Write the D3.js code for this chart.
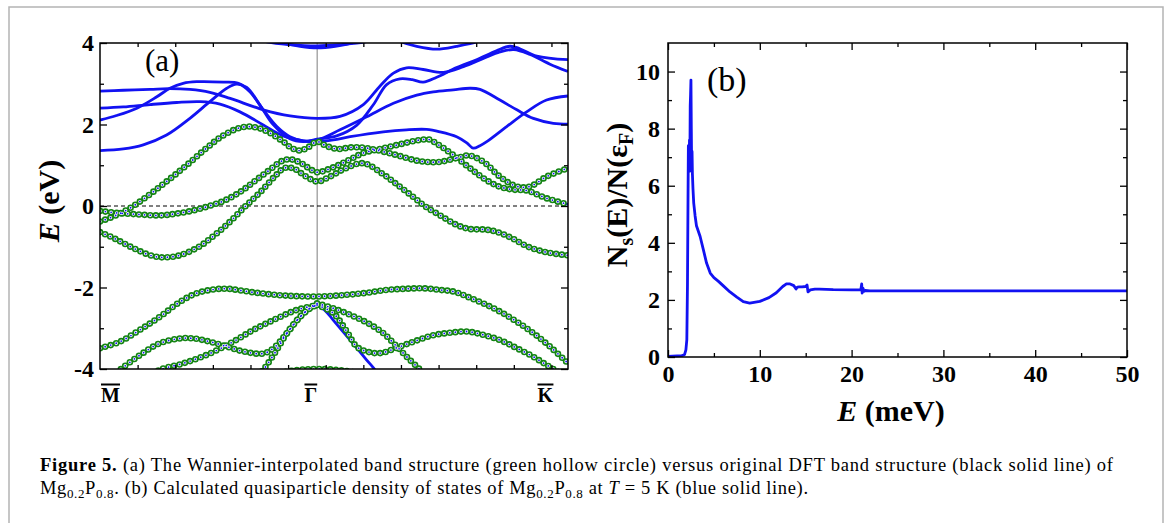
<!DOCTYPE html>
<html>
<head>
<meta charset="utf-8">
<script src="https://cdn.jsdelivr.net/npm/d3@7/dist/d3.min.js"></script>
<style>
  body { margin: 0; background: #fff; }
  svg { display: block; }
</style>
</head>
<body>
<svg id="fig" width="1169" height="523"></svg>
<script>
// ---- panel (a): band structure along M - Gamma - K, k in units of 2pi/a ----
const kLabels = ["M", "Γ", "K"]
const kPositions = [0, 0.5774, 1.244]
const kMinorTicks = [0.1, 0.2, 0.3, 0.4, 0.5, 0.6, 0.7, 0.8, 0.9, 1.0, 1.1, 1.2]
const eMajorTicks = [-4, -2, 0, 2, 4]
const eMinorTicks = [-3, -1, 1, 3]

// DFT bands without Wannier points, [k, E (eV)]
const dftTop1 = [[0.42, 4.1], [0.447, 4.02], [0.505, 3.96], [0.577, 3.93], [0.638, 3.96], [0.702, 4.02], [0.73, 4.1]]
const dftTop2 = [[0.46, 4.1], [0.478, 4.02], [0.532, 3.92], [0.577, 3.88], [0.625, 3.92], [0.678, 4.02], [0.70, 4.1]]
const dftTop3 = [[0.78, 4.12], [0.797, 4.04], [0.842, 3.92], [0.895, 3.85], [0.948, 3.92], [1.005, 4.04], [1.02, 4.12]]
const dftUpperA = [[0, 2.82], [0.062, 2.84], [0.133, 2.86], [0.182, 2.88], [0.239, 2.86], [0.292, 2.79], [0.346, 2.64],
  [0.434, 2.36], [0.505, 2.21], [0.577, 2.15], [0.638, 2.20], [0.700, 2.49], [0.744, 2.94], [0.780, 3.26], [0.815, 3.39],
  [0.859, 3.35], [0.913, 3.28], [0.966, 3.42], [1.019, 3.62], [1.063, 3.78], [1.10, 3.84], [1.143, 3.72], [1.196, 3.48], [1.244, 3.30]]
const dftUpperB = [[0, 2.40], [0.062, 2.43], [0.133, 2.49], [0.204, 2.54], [0.266, 2.56], [0.319, 2.50], [0.372, 2.31],
  [0.434, 1.99], [0.487, 1.72], [0.540, 1.60], [0.577, 1.58], [0.620, 1.62], [0.665, 1.70], [0.753, 1.82], [0.815, 1.87],
  [0.868, 1.88], [0.904, 1.82], [0.948, 1.70], [0.975, 1.55], [0.992, 1.42], [1.010, 1.48], [1.028, 1.58], [1.081, 1.95],
  [1.134, 2.31], [1.187, 2.60], [1.244, 2.70]]
const dftUpperC = [[0, 2.11], [0.044, 2.22], [0.098, 2.40], [0.151, 2.68], [0.186, 2.89], [0.221, 3.01], [0.257, 3.05],
  [0.328, 3.04], [0.368, 3.01], [0.399, 2.80], [0.434, 2.36], [0.470, 1.95], [0.505, 1.70], [0.540, 1.60], [0.577, 1.62],
  [0.638, 1.87], [0.709, 2.19], [0.780, 2.52], [0.842, 2.72], [0.886, 2.80], [0.939, 2.85], [0.984, 2.89], [1.010, 2.86],
  [1.063, 2.60], [1.108, 2.36], [1.152, 2.15], [1.205, 2.03], [1.244, 2.01]]
const dftUpperD = [[0, 1.36], [0.062, 1.40], [0.115, 1.50], [0.177, 1.74], [0.239, 2.15], [0.292, 2.56], [0.337, 2.89],
  [0.363, 2.99], [0.390, 2.91], [0.425, 2.48], [0.461, 1.99], [0.505, 1.65], [0.540, 1.58], [0.577, 1.64], [0.629, 1.72],
  [0.682, 1.98], [0.727, 2.49], [0.762, 2.98], [0.797, 3.12], [0.830, 3.10], [0.859, 3.04], [0.895, 3.16], [0.948, 3.40],
  [1.001, 3.59], [1.054, 3.81], [1.090, 3.92], [1.116, 3.86], [1.161, 3.68], [1.244, 3.59]]
const dftSteepRight = [[0.577, -2.42], [0.60, -2.58], [0.620, -2.80], [0.665, -3.29], [0.709, -3.78], [0.731, -4.02], [0.745, -4.2]]

// bands that also carry Wannier-interpolated points
const wanBand1 = [[0, -0.38], [0.04, -0.24], [0.08, -0.05], [0.12, 0.20], [0.16, 0.48], [0.20, 0.77], [0.243, 1.10],
  [0.283, 1.42], [0.324, 1.71], [0.365, 1.90], [0.396, 1.95], [0.426, 1.90], [0.456, 1.77], [0.487, 1.58], [0.51, 1.42],
  [0.53, 1.36], [0.55, 1.42], [0.577, 1.58], [0.60, 1.48], [0.63, 1.40], [0.67, 1.44], [0.71, 1.42], [0.78, 1.27],
  [0.85, 1.10], [0.90, 1.08], [0.95, 1.18], [0.98, 1.24], [1.02, 1.08], [1.063, 0.72], [1.108, 0.48], [1.143, 0.48],
  [1.187, 0.72], [1.244, 0.93]]
const wanBand2 = [[0, -0.12], [0.045, -0.17], [0.09, -0.20], [0.161, -0.23], [0.20, -0.19], [0.243, -0.12], [0.29, 0.0],
  [0.33, 0.13], [0.37, 0.33], [0.41, 0.60], [0.45, 0.88], [0.487, 1.12], [0.51, 1.14], [0.535, 1.05], [0.555, 0.93],
  [0.577, 0.83], [0.62, 0.95], [0.66, 1.12], [0.70, 1.30], [0.745, 1.40], [0.80, 1.52], [0.85, 1.62], [0.875, 1.63],
  [0.90, 1.50], [0.935, 1.28], [0.99, 0.88], [1.03, 0.62], [1.063, 0.47], [1.10, 0.40], [1.134, 0.38], [1.187, 0.19], [1.244, 0.04]]
const wanBand3 = [[0, -0.64], [0.039, -0.80], [0.090, -1.04], [0.141, -1.23], [0.172, -1.26], [0.212, -1.21], [0.263, -1.00],
  [0.304, -0.72], [0.345, -0.39], [0.385, -0.02], [0.426, 0.34], [0.467, 0.75], [0.49, 0.93], [0.515, 0.92], [0.545, 0.74],
  [0.577, 0.60], [0.609, 0.71], [0.650, 0.91], [0.700, 1.05], [0.751, 0.79], [0.792, 0.51], [0.833, 0.22], [0.863, 0.0],
  [0.904, -0.23], [0.945, -0.45], [0.980, -0.56], [1.026, -0.58], [1.057, -0.64], [1.097, -0.80], [1.138, -1.00],
  [1.189, -1.14], [1.244, -1.21]]
const wanBand4 = [[0, -3.49], [0.053, -3.33], [0.106, -3.04], [0.159, -2.72], [0.213, -2.35], [0.257, -2.14], [0.301, -2.05],
  [0.337, -2.03], [0.372, -2.07], [0.425, -2.14], [0.496, -2.20], [0.577, -2.22], [0.656, -2.18], [0.709, -2.13],
  [0.762, -2.06], [0.815, -2.03], [0.860, -2.02], [0.904, -2.06], [0.940, -2.10], [0.975, -2.22], [1.019, -2.39],
  [1.063, -2.59], [1.108, -2.84], [1.152, -3.12], [1.196, -3.45], [1.244, -3.86]]
const wanBand5 = [[0.02, -4.25], [0.053, -4.02], [0.106, -3.66], [0.159, -3.37], [0.213, -3.25], [0.248, -3.25],
  [0.292, -3.33], [0.337, -3.45], [0.381, -3.57], [0.434, -3.62], [0.461, -3.49], [0.496, -3.13], [0.532, -2.72],
  [0.558, -2.51], [0.577, -2.43]]
const wanBand6 = [[0.13, -4.2], [0.159, -4.02], [0.222, -3.86], [0.292, -3.62], [0.354, -3.33], [0.408, -3.04],
  [0.470, -2.76], [0.523, -2.55], [0.577, -2.43]]
const wanBand7 = [[0.420, -4.15], [0.434, -4.02], [0.470, -3.53], [0.496, -3.13], [0.532, -2.72], [0.558, -2.51], [0.577, -2.43]]
const wanBand8 = [[0.577, -2.43], [0.620, -2.63], [0.656, -3.08], [0.682, -3.45], [0.709, -3.57], [0.745, -3.61],
  [0.797, -3.45], [0.842, -3.30], [0.886, -3.17], [0.931, -3.11], [0.975, -3.08], [1.010, -3.14], [1.063, -3.29],
  [1.108, -3.49], [1.152, -3.70], [1.187, -3.90], [1.223, -4.10]]
const wanBand9 = [[0.577, -2.39], [0.620, -2.51], [0.665, -2.67], [0.709, -2.86], [0.753, -3.12], [0.789, -3.45],
  [0.824, -3.78], [0.851, -4.02], [0.87, -4.2]]
const wanBand10 = [[0.45, -4.15], [0.52, -4.03], [0.577, -4.0], [0.64, -4.03], [0.71, -4.15]]

// ---- panel (b): quasiparticle DOS ----
const dosE = [0, 0.5, 1.0, 1.5, 1.8, 1.95, 2.05, 2.12, 2.18, 2.22, 2.26, 2.30, 2.34, 2.38, 2.42, 2.46, 2.50, 2.54, 2.58,
  2.62, 2.66, 2.72, 2.80, 2.95, 3.1, 3.5, 3.85, 4.2, 4.6, 5.0, 5.5, 6.0, 6.75, 7.5, 8.2, 8.9, 10.0, 11.0, 11.8, 12.5,
  12.9, 13.3, 13.7, 13.95, 14.1, 14.3, 14.6, 15.0, 15.15, 15.25, 15.5, 16.0, 16.5, 18.0, 20.0, 21.0, 21.1, 21.15, 21.25,
  21.35, 21.5, 22.0, 30, 40, 50]
const dosN = [0.02, 0.03, 0.04, 0.05, 0.08, 0.25, 0.6, 2.5, 5.5, 7.4, 6.9, 6.5, 7.6, 6.6, 8.8, 9.2, 9.7, 8.0, 6.5,
  7.2, 6.4, 5.9, 5.4, 4.95, 4.6, 4.22, 3.76, 3.29, 2.94, 2.78, 2.65, 2.50, 2.28, 2.10, 1.94, 1.89, 1.95, 2.08, 2.25, 2.47,
  2.56, 2.56, 2.50, 2.38, 2.45, 2.46, 2.46, 2.47, 2.52, 2.28, 2.35, 2.38, 2.38, 2.36, 2.35, 2.35, 2.56, 2.24, 2.40,
  2.30, 2.33, 2.32, 2.32, 2.32, 2.32]
const dosXTicks = [0, 10, 20, 30, 40, 50]
const dosXMinor = [5, 15, 25, 35, 45]
const dosYTicks = [0, 2, 4, 6, 8, 10]
const dosYMinor = [1, 3, 5, 7, 9]

const dftOnlyBands = [dftTop1, dftTop2, dftTop3, dftUpperA, dftUpperB, dftUpperC, dftUpperD, dftSteepRight]
const wannierBands = [wanBand1, wanBand2, wanBand3, wanBand4, wanBand5, wanBand6, wanBand7, wanBand8, wanBand9, wanBand10]

const serif = "'Liberation Serif', 'Times New Roman', serif"
const blue = "#1212f2"
const green = "#148414"

const svg = d3.select("#fig")
  .attr("font-family", serif)

// light frame around the figure
svg.append("path")
  .attr("d", "M9,530 V7 H1163 V530")
  .attr("fill", "none")
  .attr("stroke", "#b4b4b4")
  .attr("stroke-width", 1.5)

function styleAxis(g, labelled) {
  g.select(".domain").remove()
  g.selectAll("line").attr("stroke", "#000").attr("stroke-width", 1.3)
  g.selectAll("text")
    .attr("fill", "#000")
    .attr("font-family", serif)
    .attr("font-size", 24)
    .attr("font-weight", "bold")
  if (!labelled) g.selectAll("text").remove()
}

function addAxis(parent, axis, tx, ty, labelled) {
  const g = parent.append("g")
    .attr("transform", `translate(${tx},${ty})`)
    .call(axis)
  styleAxis(g, labelled)
  return g
}

// ================= panel (a) =================
const aLeft = 100, aRight = 568, aTop = 43, aBottom = 369
const xA = d3.scaleLinear().domain([0, kPositions[2]]).range([aLeft, aRight])
const yA = d3.scaleLinear().domain([-4, 4]).range([aBottom, aTop])

const gA = svg.append("g")
svg.append("defs").append("clipPath")
  .attr("id", "clipA")
  .append("rect")
  .attr("x", aLeft).attr("y", aTop)
  .attr("width", aRight - aLeft).attr("height", aBottom - aTop)

const plotA = gA.append("g").attr("clip-path", "url(#clipA)")

// Gamma line and Fermi level
plotA.append("line")
  .attr("x1", xA(kPositions[1])).attr("x2", xA(kPositions[1]))
  .attr("y1", aTop).attr("y2", aBottom)
  .attr("stroke", "#a9a9a9").attr("stroke-width", 1.5)

plotA.append("line")
  .attr("x1", aLeft).attr("x2", aRight)
  .attr("y1", yA(0)).attr("y2", yA(0))
  .attr("stroke", "#000").attr("stroke-width", 1)
  .attr("stroke-dasharray", "4,3")

const bandLine = d3.line()
  .x(d => xA(d[0]))
  .y(d => yA(d[1]))
  .curve(d3.curveCatmullRom.alpha(0.5))

// DFT: blue solid lines
plotA.selectAll(".dft")
  .data(dftOnlyBands.concat(wannierBands))
  .join("path")
  .attr("class", "dft")
  .attr("d", bandLine)
  .attr("fill", "none")
  .attr("stroke", blue)
  .attr("stroke-width", 2.8)

// Wannier: hollow green circles along the bands
const ringLayers = [
  { color: green, width: 6.6 },
  { color: "#fff", width: 3.4 },
  { color: blue, width: 1.8 }
]
ringLayers.forEach(layer => {
  plotA.append("g")
    .selectAll("path")
    .data(wannierBands)
    .join("path")
    .attr("d", bandLine)
    .attr("fill", "none")
    .attr("stroke", layer.color)
    .attr("stroke-width", layer.width)
    .attr("stroke-linecap", "round")
    .attr("stroke-dasharray", "0,5.6")
})

// ticks, all pointing inward
addAxis(gA, d3.axisLeft(yA).tickValues(eMajorTicks).tickSize(-7).tickPadding(6).tickFormat(d => String(d)), aLeft, 0, true)
addAxis(gA, d3.axisLeft(yA).tickValues(eMinorTicks).tickSize(-4), aLeft, 0, false)
addAxis(gA, d3.axisRight(yA).tickValues(eMajorTicks).tickSize(-7), aRight, 0, false)
addAxis(gA, d3.axisRight(yA).tickValues(eMinorTicks).tickSize(-4), aRight, 0, false)
addAxis(gA, d3.axisTop(xA).tickValues(kMinorTicks).tickSize(-4), 0, aTop, false)
addAxis(gA, d3.axisBottom(xA).tickValues(kMinorTicks).tickSize(-4), 0, aBottom, false)

gA.append("rect")
  .attr("x", aLeft).attr("y", aTop)
  .attr("width", aRight - aLeft).attr("height", aBottom - aTop)
  .attr("fill", "none").attr("stroke", "#000").attr("stroke-width", 1.5)

// high-symmetry labels with overbars
const kAnchor = [
  { anchor: "start", dx: 1 },
  { anchor: "end", dx: 0 },
  { anchor: "end", dx: -15 }
]
kLabels.forEach((lab, i) => {
  const t = gA.append("text")
    .attr("x", xA(kPositions[i]) + kAnchor[i].dx)
    .attr("y", 402)
    .attr("text-anchor", kAnchor[i].anchor)
    .attr("font-size", 20)
    .attr("font-weight", "bold")
    .text(lab)
  const bb = t.node().getBBox()
  gA.append("line")
    .attr("x1", bb.x).attr("x2", bb.x + bb.width)
    .attr("y1", 384.5).attr("y2", 384.5)
    .attr("stroke", "#000").attr("stroke-width", 2)
})

gA.append("text")
  .attr("x", 145).attr("y", 71)
  .attr("font-size", 31)
  .text("(a)")

const yTitleA = gA.append("text")
  .attr("transform", "translate(59,201) rotate(-90)")
  .attr("text-anchor", "middle")
  .attr("font-size", 30)
  .attr("font-weight", "bold")
yTitleA.append("tspan").attr("font-style", "italic").text("E")
yTitleA.append("tspan").text(" (eV)")

// ================= panel (b) =================
const bLeft = 668, bRight = 1127, bTop = 43, bBottom = 357
const xB = d3.scaleLinear().domain([0, 50]).range([bLeft, bRight])
const yB = d3.scaleLinear().domain([0, 11]).range([bBottom, bTop])
const gB = svg.append("g")

const dosLine = d3.line()
  .x((d, i) => xB(dosE[i]))
  .y(d => yB(d))

gB.append("path")
  .datum(dosN)
  .attr("d", dosLine)
  .attr("fill", "none")
  .attr("stroke", blue)
  .attr("stroke-width", 2.8)
  .attr("stroke-linejoin", "round")

addAxis(gB, d3.axisBottom(xB).tickValues(dosXTicks).tickSize(-7).tickPadding(8).tickFormat(d => String(d)), 0, bBottom, true)
addAxis(gB, d3.axisBottom(xB).tickValues(dosXMinor).tickSize(-4), 0, bBottom, false)
addAxis(gB, d3.axisTop(xB).tickValues(dosXTicks).tickSize(-7), 0, bTop, false)
addAxis(gB, d3.axisTop(xB).tickValues(dosXMinor).tickSize(-4), 0, bTop, false)
addAxis(gB, d3.axisLeft(yB).tickValues(dosYTicks).tickSize(-7).tickPadding(8).tickFormat(d => String(d)), bLeft, 0, true)
addAxis(gB, d3.axisLeft(yB).tickValues(dosYMinor).tickSize(-4), bLeft, 0, false)
addAxis(gB, d3.axisRight(yB).tickValues(dosYTicks).tickSize(-7), bRight, 0, false)
addAxis(gB, d3.axisRight(yB).tickValues(dosYMinor).tickSize(-4), bRight, 0, false)

gB.append("rect")
  .attr("x", bLeft).attr("y", bTop)
  .attr("width", bRight - bLeft).attr("height", bBottom - bTop)
  .attr("fill", "none").attr("stroke", "#000").attr("stroke-width", 1.5)

gB.append("text")
  .attr("x", 707).attr("y", 91)
  .attr("font-size", 34)
  .text("(b)")

const xTitleB = gB.append("text")
  .attr("x", 891).attr("y", 421)
  .attr("text-anchor", "middle")
  .attr("font-size", 30)
  .attr("font-weight", "bold")
xTitleB.append("tspan").attr("font-style", "italic").text("E")
xTitleB.append("tspan").text(" (meV)")

const yTitleB = gB.append("text")
  .attr("transform", "translate(627,195) rotate(-90)")
  .attr("text-anchor", "middle")
  .attr("font-size", 30)
  .attr("font-weight", "bold")
yTitleB.append("tspan").text("N")
yTitleB.append("tspan").attr("font-size", 20).attr("dy", 6).text("s")
yTitleB.append("tspan").attr("dy", -6).text("(E)/N(ε")
yTitleB.append("tspan").attr("font-size", 20).attr("dy", 6).text("F")
yTitleB.append("tspan").attr("dy", -6).text(")")

// ================= caption =================
const cap1 = svg.append("text")
  .attr("x", 40).attr("y", 471)
  .attr("font-size", 18.5)
cap1.append("tspan").attr("font-weight", "bold").text("Figure 5.")
cap1.append("tspan").text(" (a) The Wannier-interpolated band structure (green hollow circle) versus original DFT band structure (black solid line) of")
cap1.attr("textLength", 1073).attr("lengthAdjust", "spacing")

const cap2 = svg.append("text")
  .attr("x", 40).attr("y", 494)
  .attr("font-size", 18.5)
const sub = (t, s) => {
  t.append("tspan").attr("font-size", 13).attr("dy", 4).text(s)
}
cap2.append("tspan").text("Mg")
sub(cap2, "0.2")
cap2.append("tspan").attr("dy", -4).text("P")
sub(cap2, "0.8")
cap2.append("tspan").attr("dy", -4).text(". (b) Calculated quasiparticle density of states of Mg")
sub(cap2, "0.2")
cap2.append("tspan").attr("dy", -4).text("P")
sub(cap2, "0.8")
cap2.append("tspan").attr("dy", -4).text(" at ")
cap2.append("tspan").attr("font-style", "italic").text("T")
cap2.append("tspan").text(" = 5 K (blue solid line).")
cap2.attr("textLength", 768).attr("lengthAdjust", "spacing")
</script>
</body>
</html>
